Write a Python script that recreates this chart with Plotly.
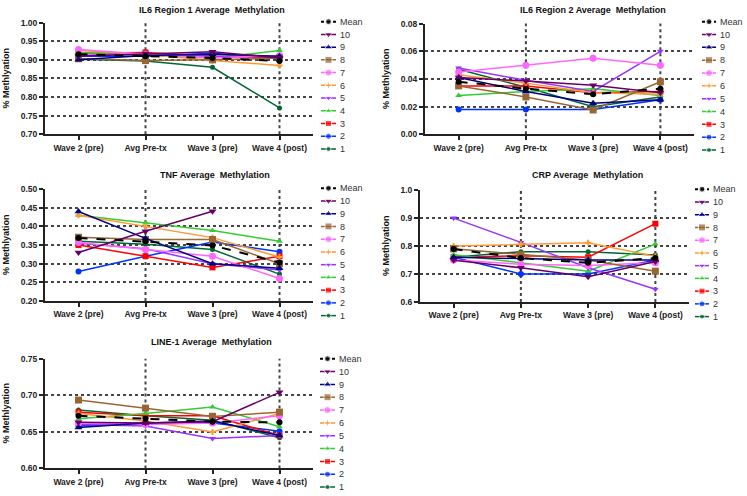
import plotly.graph_objects as go

W, H = 747, 496

CATEGORIES = ["Wave 2 (pre)", "Avg Pre-tx", "Wave 3 (pre)", "Wave 4 (post)"]
SERIES = ["Mean", "10", "9", "8", "7", "6", "5", "4", "3", "2", "1"]

# ---- data ----
il6r1 = {
    "Mean": [0.915, 0.910, 0.905, 0.897],
    "10": [0.910, 0.917, 0.922, 0.905],
    "9": [0.900, 0.912, 0.915, 0.910],
    "8": [0.903, 0.898, 0.900, 0.905],
    "7": [0.928, 0.915, 0.905, 0.912],
    "6": [0.925, 0.915, 0.898, 0.885],
    "5": [0.912, 0.918, 0.910, 0.908],
    "4": [0.920, 0.912, 0.905, 0.925],
    "3": [0.918, 0.920, 0.910, 0.905],
    "2": [0.910, 0.910, 0.918, 0.903],
    "1": [0.902, 0.897, 0.880, 0.771],
}
il6r2 = {
    "Mean": [0.038, 0.033, 0.029, 0.033],
    "10": [0.041, 0.0386, 0.0355, 0.030],
    "9": [0.041, 0.031, 0.0225, 0.025],
    "8": [0.035, 0.027, 0.0176, 0.038],
    "7": [0.045, 0.050, 0.055, 0.050],
    "6": [0.043, 0.037, 0.030, 0.029],
    "5": [0.048, 0.039, 0.031, 0.060],
    "4": [0.028, 0.031, 0.033, 0.028],
    "3": [0.035, 0.035, 0.030, 0.031],
    "2": [0.018, 0.018, 0.018, 0.025],
    "1": [0.047, 0.034, 0.020, 0.027],
}
tnf = {
    "Mean": [0.369, 0.360, 0.349, 0.303],
    "10": [0.330, 0.387, 0.441, None],
    "9": [0.440, 0.368, 0.300, 0.288],
    "8": [0.371, 0.365, 0.365, 0.300],
    "7": [0.357, 0.338, 0.320, 0.260],
    "6": [0.430, 0.400, 0.370, 0.318],
    "5": [0.355, 0.340, 0.300, 0.283],
    "4": [0.430, 0.409, 0.389, 0.360],
    "3": [0.350, 0.320, 0.290, 0.320],
    "2": [0.279, 0.320, 0.358, 0.332],
    "1": [0.360, 0.352, 0.338, 0.272],
}
crp = {
    "Mean": [0.789, 0.757, 0.740, 0.757],
    "10": [0.749, 0.722, 0.690, 0.745],
    "9": [0.760, 0.755, 0.750, 0.750],
    "8": [0.790, 0.770, 0.750, 0.710],
    "7": [0.750, 0.735, 0.730, 0.740],
    "6": [0.800, 0.806, 0.812, 0.763],
    "5": [0.900, 0.813, 0.722, 0.645],
    "4": [0.769, 0.740, 0.710, 0.807],
    "3": [0.760, 0.765, 0.760, 0.880],
    "2": [0.760, 0.700, 0.700, 0.750],
    "1": [0.760, 0.780, 0.780, 0.768],
}
line1 = {
    "Mean": [0.672, 0.668, 0.664, 0.663],
    "10": [0.663, 0.662, 0.664, 0.704],
    "9": [0.656, 0.662, 0.665, 0.645],
    "8": [0.6935, 0.6825, 0.671, 0.677],
    "7": [0.662, 0.660, 0.662, 0.672],
    "6": [0.675, 0.665, 0.650, 0.675],
    "5": [0.660, 0.658, 0.641, 0.645],
    "4": [0.668, 0.675, 0.684, 0.657],
    "3": [0.677, 0.672, 0.672, 0.645],
    "2": [0.658, 0.662, 0.662, 0.651],
    "1": [0.680, 0.672, 0.666, 0.642],
}

PANELS = [
    dict(title="IL6 Region 1 Average\u00a0 Methylation", data=il6r1, yrange=[0.70, 1.00], dtick=0.05, fmt=".2f",
         box=(45, 313, 18, 132), title_xy=(212, 5), ytitle_x=6,
         leg=(321, 336, 17, 147)),
    dict(title="IL6 Region 2 Average\u00a0 Methylation", data=il6r2, yrange=[0.0, 0.08], dtick=0.02, fmt=".2f",
         box=(425, 694, 19, 132), title_xy=(593, 5), ytitle_x=386,
         leg=(702, 716, 17, 148)),
    dict(title="TNF Average\u00a0 Methylation", data=tnf, yrange=[0.20, 0.50], dtick=0.05, fmt=".2f",
         box=(45, 313, 188, 302), title_xy=(215, 173), ytitle_x=6,
         leg=(321, 336, 187, 317)),
    dict(title="CRP Average\u00a0 Methylation", data=crp, yrange=[0.6, 1.0], dtick=0.1, fmt=".1f",
         box=(420, 689, 189, 303), title_xy=(587, 173), ytitle_x=386,
         leg=(695, 709, 188, 318)),
    dict(title="LINE-1 Average\u00a0 Methylation", data=line1, yrange=[0.60, 0.75], dtick=0.05, fmt=".2f",
         box=(45, 313, 361, 473), title_xy=(211, 344), ytitle_x=6,
         leg=(320, 335, 361, 492)),
]

STYLE = {
    "Mean": dict(color="#000000", symbol="circle", size=6, dash="dash", width=2),
    "10": dict(color="#660066", symbol="triangle-down", size=7, dash="solid", width=1.5),
    "9": dict(color="#000080", symbol="triangle-up", size=7, dash="solid", width=1.5),
    "8": dict(color="#996633", symbol="square", size=7, dash="solid", width=1.5),
    "7": dict(color="#FF66FF", symbol="circle", size=7, dash="solid", width=1.5),
    "6": dict(color="#FF9933", symbol="cross", size=5, dash="solid", width=1.5),
    "5": dict(color="#9933FF", symbol="triangle-down", size=6, dash="solid", width=1.5),
    "4": dict(color="#33CC33", symbol="triangle-up", size=6, dash="solid", width=1.5),
    "3": dict(color="#FF0000", symbol="square", size=6, dash="solid", width=1.5),
    "2": dict(color="#0033FF", symbol="circle", size=6, dash="solid", width=1.5),
    "1": dict(color="#006633", symbol="circle", size=5, dash="solid", width=1.5),
}

FONT = "Arial, Liberation Sans, sans-serif"
AXC = "#222222"
GRIDC = "#444444"


def px(x):
    return x / W


def py(y):
    return 1 - y / H


def ax_id(letter, k):
    return letter if k == 1 else f"{letter}{k}"


def ax_key(letter, k):
    return f"{letter}axis" if k == 1 else f"{letter}axis{k}"


fig = go.Figure()
layout = {}
annotations = []
shapes = []
n = len(PANELS)
draw_order = list(reversed(SERIES[1:])) + ["Mean"]

for i, p in enumerate(PANELS):
    k = i + 1
    xa, ya = ax_id("x", k), ax_id("y", k)
    for s in draw_order:
        st = STYLE[s]
        fig.add_trace(go.Scatter(
            x=CATEGORIES, y=p["data"][s], mode="lines+markers", name=s, showlegend=False,
            xaxis=xa, yaxis=ya, connectgaps=False, cliponaxis=False,
            line=dict(color=st["color"], width=st["width"], dash=st["dash"]),
            marker=dict(color=st["color"], symbol=st["symbol"], size=st["size"]),
        ))
    x0, x1, y0, y1 = p["box"]
    layout[ax_key("x", k)] = dict(
        domain=[px(x0), px(x1)], anchor=ya, type="category", categoryarray=CATEGORIES,
        range=[-0.5, len(CATEGORIES) - 0.5], showgrid=False, zeroline=False,
        showline=True, linecolor=AXC, linewidth=2, ticks="outside", ticklen=4, tickwidth=2,
        tickcolor=AXC, tickfont=dict(family=FONT, size=8.5, color=AXC, weight="bold"),
    )
    layout[ax_key("y", k)] = dict(
        domain=[py(y1), py(y0)], anchor=xa, range=p["yrange"], dtick=p["dtick"], tick0=p["yrange"][0],
        tickformat=p["fmt"], showgrid=True, gridcolor=GRIDC, griddash="dot", gridwidth=2,
        zeroline=False, showline=True, linecolor=AXC, linewidth=2, ticks="outside", ticklen=4,
        tickwidth=2, tickcolor=AXC, tickfont=dict(family=FONT, size=8.5, color=AXC, weight="bold"),
    )
    for cat in ("Avg Pre-tx", "Wave 4 (post)"):
        ci = CATEGORIES.index(cat)
        shapes.append(dict(type="line", xref=xa, yref=f"{ya} domain", x0=ci, x1=ci, y0=0, y1=1,
                           line=dict(color=GRIDC, width=2, dash="dot"), layer="below"))
    tx, ty = p["title_xy"]
    annotations.append(dict(text=p["title"], x=px(tx), y=py(ty), xref="paper", yref="paper",
                            showarrow=False, xanchor="center", yanchor="middle",
                            font=dict(family=FONT, size=9, color="#111111", weight="bold")))
    annotations.append(dict(text="% Methlyation", x=px(p["ytitle_x"]), y=py((y0 + y1) / 2),
                            xref="paper", yref="paper", showarrow=False, textangle=-90,
                            xanchor="center", yanchor="middle",
                            font=dict(family=FONT, size=9, color="#111111", weight="bold")))

    # legend drawn on its own small axis pair
    lk = n + k
    lxa, lya = ax_id("x", lk), ax_id("y", lk)
    lx0, lx1, ly0, ly1 = p["leg"]
    step = (ly1 - ly0) / (len(SERIES) - 1)
    top_px = ly0 - step / 2
    bot_px = min(ly1 + step / 2, H)
    for s in SERIES:
        st = STYLE[s]
        fig.add_trace(go.Scatter(
            x=[0, 1, 2], y=[s, s, s], mode="lines+markers", showlegend=False, hoverinfo="skip",
            xaxis=lxa, yaxis=lya, cliponaxis=False,
            line=dict(color=st["color"], width=st["width"], dash="dot" if s == "Mean" else "solid"),
            marker=dict(color=st["color"], symbol=st["symbol"], size=[0, st["size"], 0]),
        ))
    layout[ax_key("x", lk)] = dict(domain=[px(lx0), px(lx1)], anchor=lya, range=[0, 2], visible=False)
    layout[ax_key("y", lk)] = dict(
        domain=[py(bot_px), py(top_px)], anchor=lxa, type="category",
        categoryarray=SERIES, range=[(bot_px - ly0) / step, -0.5], side="right", showgrid=False,
        zeroline=False, showline=False, ticks="", ticklabelstandoff=3,
        tickfont=dict(family=FONT, size=9, color="#333333"),
    )

fig.update_layout(
    width=W, height=H, margin=dict(l=0, r=0, t=0, b=0), paper_bgcolor="white", plot_bgcolor="white",
    annotations=annotations, shapes=shapes, hovermode=False, **layout,
)

fig.write_html("out.html", config={"displayModeBar": False, "staticPlot": True},
               post_script="document.body.style.margin='0px';")
